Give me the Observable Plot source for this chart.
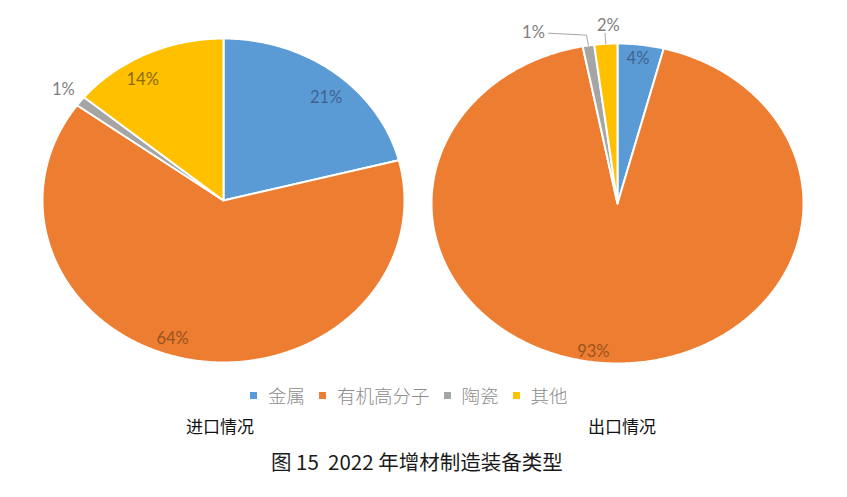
<!DOCTYPE html>
<html>
<head>
<meta charset="utf-8">
<script src="https://cdn.jsdelivr.net/npm/d3@7"></script>
<script src="https://cdn.jsdelivr.net/npm/@observablehq/plot@0.6"></script>
<style>
  html, body { margin: 0; padding: 0; background: #fff; }
  #page { position: relative; width: 847px; height: 497px; overflow: hidden; background: #fff; font-family: "Noto Sans CJK SC", "Noto Sans", sans-serif; }
  .pie { position: absolute; top: 0; }
  #legend { position: absolute; left: 250px; top: 382px; display: flex; align-items: center; font-family: "Noto Sans CJK SC", serif; font-size: 18.5px; color: #8c8c8c; font-weight: 300; white-space: nowrap; }
  #legend .sw { display: inline-block; width: 7px; height: 7px; margin: 0 11px 0 0; }
  #legend .lab { margin-right: 14px; }
  .sub { position: absolute; top: 413px; font-size: 17px; color: #111; font-weight: 400; }
  #caption { position: absolute; left: 271px; top: 446px; font-size: 20.5px; color: #1a1a1a; white-space: pre; }
</style>
</head>
<body>
<div id="page">
  <div id="left" class="pie" style="left:0px"></div>
  <div id="right" class="pie" style="left:425px"></div>
  <div id="legend"></div>
  <div class="sub" style="left:186px">进口情况</div>
  <div class="sub" style="left:588px">出口情况</div>
  <div id="caption">图 15  2022 年增材制造装备类型</div>
</div>
<script>
// ---- data ----
const categories = ["金属", "有机高分子", "陶瓷", "其他"];
const importValues = [21, 64, 1, 14];   // 进口情况 (%)
const exportValues = [4, 93, 1, 2];     // 出口情况 (%)
const pieTitles = ["进口情况", "出口情况"];

// ---- style ----
const sliceColors = ["#5b9bd5", "#ed7d31", "#a5a5a5", "#ffc000"];
const labelColors = ["#3f6390", "#9a5220", "#7f7f7f", "#8a6a12"];
const outsideColor = "#7f7f7f";

function buildSlices(values) {
  const total = d3.sum(values);
  let acc = 0;
  return values.map((v, i) => {
    const a0 = acc / total * 2 * Math.PI;
    acc += v;
    const a1 = acc / total * 2 * Math.PI;
    return {cat: categories[i], value: v, a0, a1, mid: (a0 + a1) / 2, i};
  });
}

function slicePoints(slices) {
  const pts = [];
  const step = Math.PI / 360;
  for (const s of slices) {
    pts.push({cat: s.cat, x: 0, y: 0});
    const n = Math.max(2, Math.ceil((s.a1 - s.a0) / step));
    for (let k = 0; k <= n; k++) {
      const t = s.a0 + (s.a1 - s.a0) * k / n;
      pts.push({cat: s.cat, x: Math.sin(t), y: Math.cos(t)});
    }
  }
  return pts;
}

function drawPie(values, opts) {
  const {width, height, cx, cy, rx, ry, leaders, shifts, nudges} = opts;
  const slices = buildSlices(values);
  const marks = [
    Plot.line(slicePoints(slices), {
      x: "x", y: "y", z: "cat", fill: "cat",
      stroke: "white", strokeWidth: 2, strokeLinejoin: "round",
      curve: "linear-closed"
    })
  ];
  for (const s of slices) {
    const outside = s.value <= 2;
    const r = outside ? 1.12 : 0.88;
    const shift = (shifts && shifts[s.cat]) || 0;
    const nudge = (nudges && nudges[s.cat]) || [0, 0];
    let lx = Math.sin(s.mid) * r, ly = Math.cos(s.mid) * r;
    let dx = nudge[0], dy = nudge[1];
    if (outside && leaders) {
      const e = {x: Math.sin(s.mid), y: Math.cos(s.mid)};
      const k = {x: Math.sin(s.mid) * 1.065, y: Math.cos(s.mid) * 1.065};
      let path = [e, k];
      if (shift) {
        path.push({x: k.x + (shift + 15) / rx, y: k.y + 2 / ry});
        lx = k.x; ly = k.y; dx = shift; dy = -2;
      }
      marks.push(Plot.line(path, {x: "x", y: "y", stroke: "#a5a5a5", strokeWidth: 1}));
    }
    marks.push(Plot.text([s], {
      x: () => lx, y: () => ly, dx, dy,
      text: d => d.value + "%",
      fill: outside ? outsideColor : labelColors[s.i],
      fontSize: 16.5, fontFamily: "Lato, 'Open Sans', sans-serif"
    }));
  }
  return Plot.plot({
    width, height, margin: 0,
    x: {domain: [-1, 1], range: [cx - rx, cx + rx], axis: null},
    y: {domain: [-1, 1], range: [cy + ry, cy - ry], axis: null},
    color: {domain: categories, range: sliceColors},
    style: {background: "transparent", overflow: "visible"},
    marks
  });
}

document.getElementById("left").append(drawPie(importValues, {
  width: 425, height: 380, cx: 223, cy: 200, rx: 181, ry: 162, leaders: false,
  nudges: {"金属": [5, 10], "其他": [-13, 8], "有机高分子": [-21, -2]}
}));
document.getElementById("right").append(drawPie(exportValues, {
  width: 422, height: 380, cx: 192, cy: 203, rx: 186, ry: 160, leaders: true,
  shifts: {"陶瓷": -53},
  nudges: {"金属": [0, -5], "有机高分子": [-19, 7], "其他": [4, 1]}
}));

const legend = document.getElementById("legend");
categories.forEach((c, i) => {
  const sw = document.createElement("span");
  sw.className = "sw";
  sw.style.background = sliceColors[i];
  const t = document.createElement("span");
  t.className = "lab";
  t.textContent = c;
  legend.append(sw, t);
});
</script>
</body>
</html>
